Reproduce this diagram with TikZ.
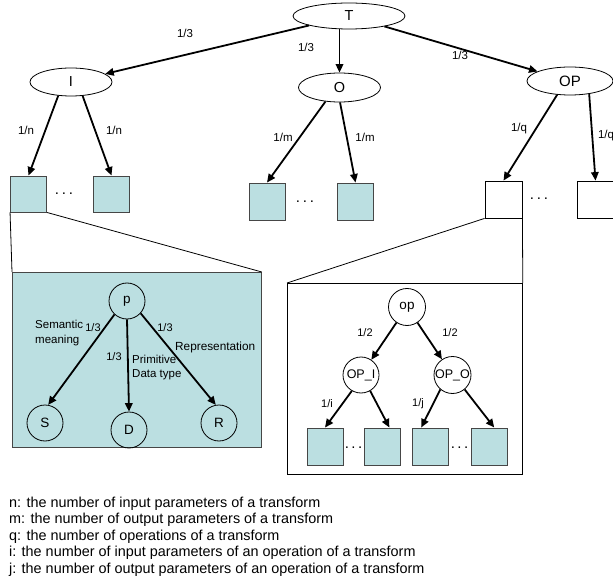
\documentclass[tikz,border=0pt]{standalone}
\usepackage{fontspec}
\setmainfont{Liberation Sans}
\usetikzlibrary{shapes.geometric,arrows.meta,calc}
\definecolor{boxcyan}{RGB}{187,223,225}
\definecolor{edgegray}{RGB}{70,70,70}
\begin{document}
\begin{tikzpicture}[x=1pt,y=-1pt,
  oval/.style={ellipse, draw, line width=0.8pt, inner sep=0pt, font=\fontsize{14.5}{16}\selectfont},
  leaf/.style={rectangle, draw=edgegray, fill=boxcyan, line width=0.9pt,
               minimum width=36pt, minimum height=36pt, inner sep=0pt},
  hollow/.style={rectangle, draw, fill=white, line width=0.8pt,
               minimum width=37pt, minimum height=37pt, inner sep=0pt},
  circ/.style={circle, draw, line width=0.8pt, minimum size=36pt, inner sep=0pt,
               font=\fontsize{13.5}{15}\selectfont},
  panel/.style={rectangle, draw, line width=0.8pt, inner sep=0pt, anchor=north west},
  link/.style={-{Triangle[length=8.5pt,width=7.5pt]}, line width=1.8pt},
  thinline/.style={line width=0.8pt},
  lbl/.style={font=\fontsize{11.5}{13}\selectfont, inner sep=0pt},
  small/.style={font=\fontsize{11}{13}\selectfont, inner sep=0pt},
  dots/.style={font=\fontsize{15}{16}\selectfont, inner sep=0pt, anchor=base},
  legend/.style={font=\fontsize{14.4}{16}\selectfont, inner sep=0pt, anchor=base west}]
\useasboundingbox (0,0) rectangle (613,585);
\clip (0,0) rectangle (613,585);

% top level of the tree
\node[oval, minimum width=112pt, minimum height=26pt] (T) at (349,16) {T};
\node[oval, minimum width=82pt, minimum height=28pt] (I) at (71,82) {I};
\node[oval, minimum width=82pt, minimum height=29pt] (O) at (339.5,87.5) {O};
\node[oval, minimum width=86pt, minimum height=28pt, font=\fontsize{15}{16}\selectfont] (OP) at (570,81) {OP};

% parameter and operation boxes
\node[leaf] (b1) at (28.5,194) {};
\node[leaf] (b2) at (111.5,194) {};
\node[leaf, minimum height=37pt] (o1) at (267,201.5) {};
\node[leaf, minimum height=37pt] (o2) at (355.5,201.5) {};
\node[hollow] (q1) at (503.5,199.5) {};
\node[hollow] (q2) at (595.5,199.5) {};

\node[dots] (d1) at (64,195) {.\kern2.8pt.\kern2.8pt.};
\node[dots] (d2) at (305,203) {.\kern2.8pt.\kern2.8pt.};
\node[dots] (d3) at (539,200) {.\kern2.8pt.\kern2.8pt.};

% top level edges
\draw[link] (T) -- (I);
\draw[link] (T.south -| O.north) -- (O.north);
\draw[link] (T) -- (OP);
\draw[link] (I.-133) -- (b1.north);
\draw[link] (I.-50) -- (b2.north);
\draw[link] (O.-135) -- (o1.north);
\draw[link] (O.-88) -- (o2.north);
\draw[link] (OP.-133) -- (q1.north);
\draw[link] (OP.-34) -- (q2.north);

\node[lbl] (l1) at (185,33) {1/3};
\node[lbl] (l2) at (306,47) {1/3};
\node[lbl] (l3) at (460,55) {1/3};
\node[lbl] (l4) at (26,130) {1/n};
\node[lbl] (l5) at (114,130) {1/n};
\node[lbl] (l6) at (283,137) {1/m};
\node[lbl] (l7) at (365,137) {1/m};
\node[lbl] (l8) at (519,129) {1/q};
\node[lbl] (l9) at (606,136) {1/q};

% detail of a parameter
\node[panel, fill=boxcyan, draw=edgegray, minimum width=249pt, minimum height=175pt] (pan1) at (12,272) {};
\draw[thinline] (b1.south west) -- (pan1.north west);
\draw[thinline] (b1.south east) -- (pan1.north east);

\node[circ] (p) at (127,301) {p};
\node[circ] (S) at (45,423) {S};
\node[circ] (D) at (129,430) {D};
\node[circ] (R) at (219,423) {R};
\draw[link] (p.-133) -- (S.80);
\draw[link] (p.south) -- (D.north);
\draw[link] (p.-42) -- (R.100);

\node[small] (pl1) at (93,328) {1/3};
\node[small] (pl2) at (114,357) {1/3};
\node[small] (pl3) at (165,328) {1/3};
\node[lbl, anchor=base west, align=left, font=\fontsize{11.5}{15}\selectfont] (sem) at (35,343) {Semantic\\meaning};
\node[lbl, anchor=base west, align=left, font=\fontsize{11.5}{13.5}\selectfont] (prim) at (132,377) {Primitive\\Data type};
\node[lbl, anchor=base west, font=\fontsize{11.8}{13}\selectfont] (rep) at (175,350) {Representation};

% detail of an operation
\node[panel, fill=white, minimum width=235pt, minimum height=191pt] (pan2) at (287,283) {};
\draw[thinline] (q1.south west) -- (pan2.north west);
\draw[thinline] (q1.south east) -- (pan2.north east);

\node[circ, minimum size=37pt] (op) at (407,307) {op};
\node[circ, font=\fontsize{12.5}{15}\selectfont] (OPI) at (361,375) {OP\_I};
\node[circ, minimum size=37pt, font=\fontsize{12.5}{15}\selectfont] (OPO) at (452.5,375) {OP\_O};

\node[leaf, minimum height=37pt] (ba) at (325,446.5) {};
\node[leaf, minimum height=37pt] (bb) at (382.5,446.5) {};
\node[leaf, minimum height=37pt] (bc) at (430,446.5) {};
\node[leaf, minimum height=37pt] (bd) at (489.5,446.5) {};
\node[dots] (d4) at (353.5,448) {.\kern2.5pt.\kern2.5pt.};
\node[dots] (d5) at (459.5,448) {.\kern2.5pt.\kern2.5pt.};

\draw[link] (op) -- (OPI);
\draw[link] (op) -- (OPO);
\draw[link] (OPI.-120) -- (ba.north);
\draw[link] (OPI.-60) -- (bb.70);
\draw[link] (OPO.-130) -- (bc.115);
\draw[link] (OPO.-50) -- (bd.76);

\node[small] (ol1) at (365,333) {1/2};
\node[small] (ol2) at (450,333) {1/2};
\node[small] (ol3) at (327,404) {1/i};
\node[small] (ol4) at (418,404) {1/j};

% legend
\node[legend] (n1) at (9,507) {n: the number of input parameters of a transform};
\node[legend] (n2) at (9,523.5) {m: the number of output parameters of a transform};
\node[legend] (n3) at (9,540) {q: the number of operations of a transform};
\node[legend] (n4) at (9,556.5) {i: the number of input parameters of an operation of a transform};
\node[legend] (n5) at (9,573) {j: the number of output parameters of an operation of a transform};
\end{tikzpicture}
\end{document}
